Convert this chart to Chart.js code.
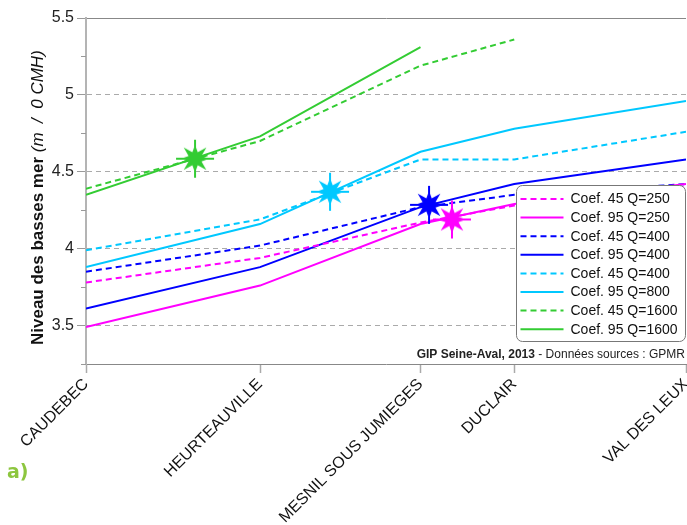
<!DOCTYPE html>
<html>
<head>
<meta charset="utf-8">
<script src="https://cdn.jsdelivr.net/npm/chart.js@4"></script>
<style>
  html, body { margin: 0; padding: 0; background: #fff; }
  #wrap { width: 687px; height: 525px; }
</style>
</head>
<body>
<div id="wrap"><canvas id="niveaux" width="687" height="525"></canvas></div>
<script>
// ============================================================
//  Niveaux des basses mers — Seine, Caudebec → Val des Leux
// ============================================================

// ── Data ─────────────────────────────────────────────
const stations   = ['CAUDEBEC', 'HEURTEAUVILLE', 'MESNIL SOUS JUMIEGES', 'DUCLAIR', 'VAL DES LEUX'];
const stationKm  = [0, 11.6, 22.3, 28.55, 40];   // distance from Caudebec (km)

const c45q250  = [3.78, 3.94, 4.17, 4.28, 4.40];
const c95q250  = [3.49, 3.76, 4.16, 4.29, 4.42];
const c45q400  = [3.85, 4.02, 4.27, 4.35, 4.42];
const c95q400  = [3.61, 3.88, 4.27, 4.42, 4.58];
const c45q800  = [3.99, 4.19, 4.58, 4.58, 4.76];
const c95q800  = [3.88, 4.16, 4.63, 4.78, 4.96];
const c45q1600 = [4.39, 4.70, 5.19, 5.36, null];
const c95q1600 = [4.35, 4.73, 5.31, null, null];

const seriesLabels = ['Coef. 45 Q=250', 'Coef. 95 Q=250', 'Coef. 45 Q=400', 'Coef. 95 Q=400',
                      'Coef. 45 Q=400', 'Coef. 95 Q=800', 'Coef. 45 Q=1600', 'Coef. 95 Q=1600'];

// star markers (one per discharge)
const starKm    = [7.27, 16.27, 22.87, 24.4];
const starLevel = [4.585, 4.37, 4.285, 4.19];

const yTicksLabelled = [3.5, 4, 4.5, 5, 5.5];

// ── Styles ───────────────────────────────────────────
const MAGENTA = '#ff00ff', BLUE = '#0000ff', CYAN = '#00c8ff', GREEN = '#33cc33';
const DASH = [6, 4];

const seriesValues = [c45q250, c95q250, c45q400, c95q400, c45q800, c95q800, c45q1600, c95q1600];
const seriesColors = [MAGENTA, MAGENTA, BLUE, BLUE, CYAN, CYAN, GREEN, GREEN];
const starColors   = [GREEN, CYAN, BLUE, MAGENTA];

function toPoints(values) {
  return values.map((v, i) => ({ x: stationKm[i], y: v }));
}

function makeStar(color) {
  const c = document.createElement('canvas');
  c.width = 42; c.height = 42;
  const g = c.getContext('2d');
  g.translate(21, 21);
  g.fillStyle = color;
  g.beginPath();
  for (let i = 0; i < 16; i++) {
    const a = i * Math.PI / 8 - Math.PI / 2;
    const r = i % 2 ? 7 : (i % 4 === 0 ? 14 : 16);
    const px = r * Math.cos(a), py = r * Math.sin(a);
    if (i === 0) g.moveTo(px, py); else g.lineTo(px, py);
  }
  g.closePath();
  g.fill();
  g.strokeStyle = color;
  g.lineWidth = 2;
  g.beginPath();
  g.moveTo(-19, 0); g.lineTo(19, 0);
  g.moveTo(0, -19); g.lineTo(0, 19);
  g.stroke();
  return c;
}

const isHalf = v => Math.abs(v * 2 - Math.round(v * 2)) < 1e-6;

// ── Datasets ─────────────────────────────────────────
const datasets = seriesValues.map((vals, i) => ({
  type: 'line',
  label: seriesLabels[i],
  data: toPoints(vals),
  borderColor: seriesColors[i],
  borderWidth: 2,
  borderDash: i % 2 === 0 ? DASH : [],
  pointRadius: 0,
  tension: 0,
  spanGaps: false,
  order: 1
}));

starKm.forEach((km, i) => {
  datasets.push({
    type: 'scatter',
    label: 'star' + i,
    data: [{ x: km, y: starLevel[i] }],
    pointStyle: makeStar(starColors[i]),
    pointRadius: 20,
    order: 0
  });
});

// ── Decorations (legend, titles, credit) ────────────
const decor = {
  id: 'decor',
  afterDatasetsDraw(chart) {
    const ctx = chart.ctx;
    const y = chart.scales.y;
    // minor ticks on the y axis
    ctx.save();
    ctx.strokeStyle = '#999';
    ctx.lineWidth = 1;
    y.ticks.forEach(t => {
      if (isHalf(t.value)) return;
      const py = Math.round(y.getPixelForValue(t.value)) + 0.5;
      ctx.beginPath();
      ctx.moveTo(chart.chartArea.left - 5, py);
      ctx.lineTo(chart.chartArea.left, py);
      ctx.stroke();
    });
    ctx.restore();

    // legend box
    const bx = 516.5, by = 185.5, bw = 169, bh = 156, row = 18.6;
    ctx.save();
    ctx.beginPath();
    ctx.roundRect(bx, by, bw, bh, 6);
    ctx.fillStyle = '#fff';
    ctx.fill();
    ctx.strokeStyle = '#777';
    ctx.lineWidth = 1;
    ctx.stroke();
    ctx.font = '14px "Liberation Sans", Arial, sans-serif';
    ctx.textBaseline = 'middle';
    ctx.fillStyle = '#111';
    seriesLabels.forEach((lab, i) => {
      const ry = by + 13.5 + i * row;
      ctx.save();
      ctx.strokeStyle = seriesColors[i];
      ctx.lineWidth = 2;
      ctx.setLineDash(i % 2 === 0 ? DASH : []);
      ctx.beginPath();
      ctx.moveTo(bx + 4, ry);
      ctx.lineTo(bx + 47, ry);
      ctx.stroke();
      ctx.restore();
      ctx.fillText(lab, bx + 54, ry + 0.5);
    });
    ctx.restore();
  },
  afterDraw(chart) {
    const ctx = chart.ctx;
    ctx.save();
    // y axis title: bold + italic
    ctx.translate(38, 345);
    ctx.rotate(-Math.PI / 2);
    ctx.textBaseline = 'middle';
    ctx.fillStyle = '#111';
    ctx.font = 'bold 17px "Liberation Sans", Arial, sans-serif';
    const t1 = 'Niveau des basses mer';
    ctx.fillText(t1, 0, 0);
    const w1 = ctx.measureText(t1 + ' ').width;
    ctx.font = 'italic 17px "Liberation Sans", Arial, sans-serif';
    ctx.fillText('(m  /  0 CMH)', w1, 0);
    ctx.restore();

    // credit line
    ctx.save();
    ctx.textBaseline = 'middle';
    ctx.fillStyle = '#222';
    ctx.font = '12px "Liberation Sans", Arial, sans-serif';
    const tail = ' - Données sources : GPMR';
    const wTail = ctx.measureText(tail).width;
    ctx.textAlign = 'right';
    ctx.fillText(tail, 685, 355);
    ctx.font = 'bold 12px "Liberation Sans", Arial, sans-serif';
    ctx.fillText('GIP Seine-Aval, 2013', 685 - wTail, 355);

    // panel tag
    ctx.textAlign = 'left';
    ctx.textBaseline = 'alphabetic';
    ctx.fillStyle = '#8dc63f';
    ctx.font = 'bold 19px "DejaVu Sans", sans-serif';
    ctx.fillText('a)', 7, 478);
    ctx.restore();
  }
};

const noPadding = () => ({ left: 0, top: 0, right: 0, bottom: 0 });

// ── Chart ────────────────────────────────────────────
new Chart(document.getElementById('niveaux'), {
  data: { datasets },
  options: {
    responsive: false,
    animation: false,
    layout: { autoPadding: false, padding: { top: 18, right: 1, left: 0, bottom: 0 } },
    plugins: { legend: { display: false }, tooltip: { enabled: false } },
    scales: {
      x: {
        type: 'linear',
        min: stationKm[0],
        max: stationKm[stationKm.length - 1],
        afterBuildTicks: scale => { scale.ticks = stationKm.map(v => ({ value: v })); },
        afterFit: scale => {
          scale.height = 161;
          scale.paddingLeft = 0;
          scale.paddingRight = 0;
          scale.getPadding = noPadding;
        },
        ticks: {
          autoSkip: false,
          minRotation: 45,
          maxRotation: 45,
          padding: 2,
          color: '#111',
          font: { family: '"Liberation Sans", Arial, sans-serif', size: 16 },
          callback: (v, i) => stations[i]
        },
        grid: { drawOnChartArea: false, tickLength: 9, tickColor: '#aaa', tickWidth: 1.5 },
        border: { color: '#888', width: 1 }
      },
      y: {
        min: 3.25,
        max: 5.5,
        afterFit: scale => { scale.width = 86; },
        ticks: {
          stepSize: 0.25,
          padding: 3,
          color: '#222',
          font: { family: '"Liberation Sans", Arial, sans-serif', size: 16 },
          callback: v => yTicksLabelled.some(t => Math.abs(t - v) < 1e-6) ? String(v) : ''
        },
        grid: {
          color: c => {
            const v = c.tick.value;
            if (Math.abs(v - 5.5) < 1e-6) return '#888';
            return isHalf(v) && v > 3.3 ? '#aaa' : 'transparent';
          },
          tickColor: c => isHalf(c.tick.value) ? '#999' : 'transparent',
          tickLength: 9,
          lineWidth: 1
        },
        border: {
          color: '#b4b4b4',
          width: 2,
          dash: c => (c.tick && Math.abs(c.tick.value - 5.5) < 1e-6) ? [] : [5, 4]
        }
      }
    }
  },
  plugins: [decor]
});
</script>
</body>
</html>
